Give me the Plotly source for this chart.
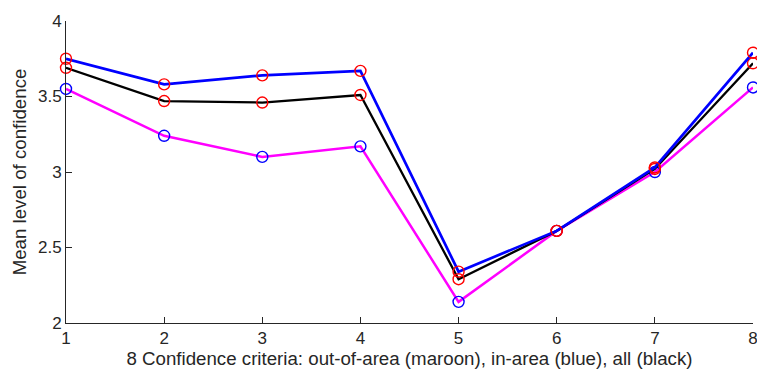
import plotly.graph_objects as go

criteria = [1, 2, 3, 4, 5, 6, 7, 8]
in_area = [3.75, 3.58, 3.64, 3.67, 2.34, 2.61, 3.03, 3.79]
all_resp = [3.69, 3.47, 3.46, 3.51, 2.29, 2.61, 3.02, 3.72]
out_area = [3.55, 3.24, 3.10, 3.17, 2.14, 2.61, 3.00, 3.56]

x_ticks = [1, 2, 3, 4, 5, 6, 7, 8]
y_ticks = [2, 2.5, 3, 3.5, 4]
y_tick_labels = ["2", "2.5", "3", "3.5", "4"]

FONT = "Liberation Sans, Arial, Helvetica, sans-serif"
TXT = "#262626"

fig = go.Figure()

def add_series(y, line_color, marker_color, width):
    fig.add_trace(go.Scatter(
        x=criteria, y=y, mode="lines",
        line=dict(color=line_color, width=width),
        showlegend=False, cliponaxis=False, hoverinfo="skip"))
    fig.add_trace(go.Scatter(
        x=criteria, y=y, mode="markers",
        marker=dict(symbol="circle-open", size=11, color=marker_color,
                    line=dict(width=1.4, color=marker_color)),
        showlegend=False, cliponaxis=False))

add_series(out_area, "#ff00ff", "#0000ff", 2.5)
add_series(all_resp, "#000000", "#ff0000", 2.3)
add_series(in_area, "#0000ff", "#ff0000", 2.7)

axis_common = dict(
    showgrid=False, zeroline=False, showline=True, linecolor=TXT,
    linewidth=1, ticks="inside", ticklen=6, tickcolor=TXT,
    tickfont=dict(family=FONT, size=17, color=TXT),
    ticklabeloverflow="allow", automargin=False,
    mirror=False,
)

fig.update_layout(
    width=757, height=370,
    margin=dict(l=66, r=4, t=21, b=47),
    plot_bgcolor="white", paper_bgcolor="white",
    xaxis=dict(range=[1, 8], tickvals=x_ticks, ticktext=[str(v) for v in x_ticks],
               title=dict(text="8 Confidence criteria: out-of-area (maroon), in-area (blue), all (black)",
                          font=dict(family=FONT, size=18.7, color=TXT),
                          standoff=2),
               **axis_common),
    yaxis=dict(range=[2, 4], tickvals=y_ticks, ticktext=y_tick_labels,
               title=dict(text="Mean level of confidence",
                          font=dict(family=FONT, size=18.7, color=TXT),
                          standoff=6),
               **axis_common),
)

fig.write_html("out.html")
